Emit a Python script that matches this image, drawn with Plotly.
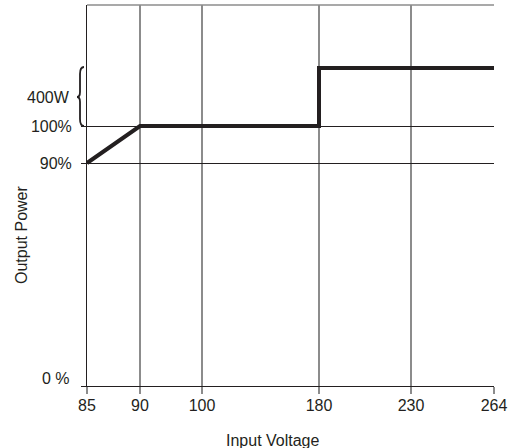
import numpy as np
import plotly.graph_objects as go

# Axis scales (non-linear, as drawn in the reference)
volt_ticks = [85, 90, 100, 180, 230, 264]
volt_axis = [0, 53, 115, 232, 324, 407]          # axis units for each voltage tick
power_levels = ["0 %", "90%", "100%", "400W"]
power_axis = [0, 223, 260, 318]                   # axis units for each power level

# Output power curve
curve_volts = [85, 90, 180, 180, 264]
curve_power = ["90%", "100%", "100%", "400W", "400W"]

xs = np.interp(curve_volts, volt_ticks, volt_axis)
ys = [power_axis[power_levels.index(p)] for p in curve_power]

font = dict(family="Liberation Sans, Arial, sans-serif", size=16, color="#231f20")

fig = go.Figure()
fig.add_trace(go.Scatter(x=xs, y=ys, mode="lines",
                         line=dict(color="#231f20", width=4),
                         hoverinfo="skip", showlegend=False))

fig.update_layout(
    width=514, height=448,
    margin=dict(l=87, r=20, t=5, b=62),
    paper_bgcolor="white", plot_bgcolor="white",
    font=font,
    xaxis=dict(range=[0, 407], tickvals=volt_axis, ticktext=[str(v) for v in volt_ticks],
               showgrid=True, gridcolor="#8c8c8c", gridwidth=1.5,
               ticks="outside", ticklen=7, tickcolor="#8c8c8c", tickwidth=1.5,
               showline=True, linecolor="#231f20", linewidth=1,
               zeroline=False, ticklabelstandoff=-2, fixedrange=True),
    yaxis=dict(range=[0, 381], tickvals=power_axis[:3],
               ticktext=[""] + power_levels[1:3],
               showgrid=True, gridcolor="#231f20", gridwidth=1,
               ticks="outside", ticklen=5, tickcolor="#231f20", tickwidth=1,
               showline=True, linecolor="#231f20", linewidth=1,
               zeroline=False, ticklabelstandoff=6, fixedrange=True),
)

# top border (gray)
fig.add_shape(type="line", xref="paper", yref="paper", x0=0, x1=1, y0=1, y1=1,
              line=dict(color="#8c8c8c", width=1.5))

# brace next to 400W
def px(p):
    return (p - 87) / 407.0
xr, xm, xl = px(84), px(80), px(77)
yt, ymid, yb = power_axis[3] + 1, (power_axis[2] + power_axis[3]) / 2, power_axis[2]
path = (f"M {xr},{yt} Q {xm},{yt} {xm},{yt-7} L {xm},{ymid+5} "
        f"Q {xm},{ymid} {xl},{ymid} Q {xm},{ymid} {xm},{ymid-5} "
        f"L {xm},{yb+7} Q {xm},{yb} {xr},{yb}")
fig.add_shape(type="path", xref="paper", yref="y", path=path,
              line=dict(color="#231f20", width=1.8))

fig.add_annotation(text="400W", xref="paper", yref="y", x=px(72), y=ymid,
                   xanchor="right", yanchor="middle", showarrow=False, font=font)
fig.add_annotation(text=power_levels[0], xref="paper", yref="y", x=px(72),
                   y=power_axis[0], yshift=8, xanchor="right", yanchor="middle",
                   showarrow=False, font=font)

fig.add_annotation(text="Input Voltage", xref="paper", yref="paper",
                   x=(273 - 87) / 407, y=-(440 - 386) / 381, xanchor="center",
                   yanchor="middle", showarrow=False, font=font)
fig.add_annotation(text="Output Power", xref="paper", yref="paper",
                   x=-(87 - 21) / 407, y=(386 - 235) / 381, xanchor="center",
                   yanchor="middle", textangle=-90, showarrow=False, font=font)

fig.write_html("out.html", config={"displayModeBar": False},
               post_script="document.body.style.margin='0';document.body.style.padding='0';")
